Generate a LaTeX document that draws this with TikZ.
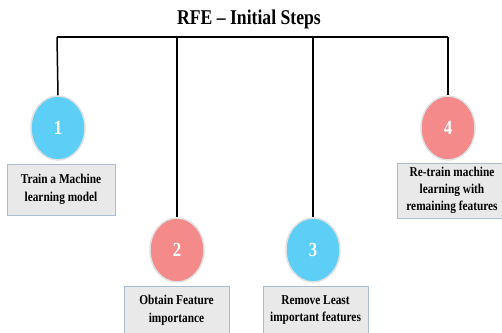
\documentclass[tikz,border=0pt]{standalone}
\usepackage{fontspec}
\setmainfont{Liberation Serif}
\newfontfamily\condfont{Liberation Serif}[FakeStretch=0.84]
\usetikzlibrary{shapes.geometric}
\definecolor{stepblue}{HTML}{5DCFF6}
\definecolor{stepred}{HTML}{F48A8A}
\definecolor{boxgrey}{HTML}{E9E9E9}
\definecolor{boxedge}{HTML}{AABDD2}
\tikzset{
  stepdisk/.style={ellipse, draw=black!12, line width=1.5pt, minimum width=54pt, minimum height=64pt, inner sep=0pt, text=white, font=\condfont\bfseries\fontsize{20}{20}\selectfont},
  stepbox/.style={rectangle, draw=boxedge, fill=boxgrey, line width=0.8pt, align=center, inner sep=0pt, font=\condfont\bfseries\fontsize{13.5}{17.5}\selectfont},
}
\begin{document}
\begin{tikzpicture}[x=1pt, y=-1pt]
            \useasboundingbox (0,0) rectangle (502,332);
            \node[font=\condfont\bfseries\fontsize{21}{21}\selectfont] (title) at (249,19) {RFE – Initial Steps};
            % the four steps (disks and their boxes)
            \node[stepdisk, fill=stepblue] (c1) at (58,128) {1};
            \node[stepdisk, fill=stepred] (c2) at (177,250) {2};
            \node[stepdisk, fill=stepblue] (c3) at (313,250) {3};
            \node[stepdisk, fill=stepred] (c4) at (448,128) {4};
            \node[stepbox, minimum width=108pt, minimum height=51pt] (b1) at (61,189.5) {Train a Machine\\learning model};
            \node[stepbox, minimum width=105pt, minimum height=48pt] (b2) at (176.5,310) {Obtain Feature\\importance};
            \node[stepbox, minimum width=105pt, minimum height=48pt] (b3) at (315.5,310) {Remove Least\\important features};
            \node[stepbox, minimum width=110pt, minimum height=55pt, font=\condfont\bfseries\fontsize{13.5}{17}\selectfont] (b4) at (452,190.5) {Re-train machine\\learning with\\remaining features};
            % bus line from the title to each step
            \coordinate (busL) at (57,37);
            \coordinate (busR) at (448,37);
            \draw[line width=1.5pt] (busL) -- (busR);
            \draw[line width=1.5pt] (busL) -- (c1.north);
            \draw[line width=1.5pt] (c2.north |- busL) -- (c2.north);
            \draw[line width=1.5pt] (c3.north |- busL) -- (c3.north);
            \draw[line width=1.5pt] (busR) -- (c4.north);
        \end{tikzpicture}
\end{document}
